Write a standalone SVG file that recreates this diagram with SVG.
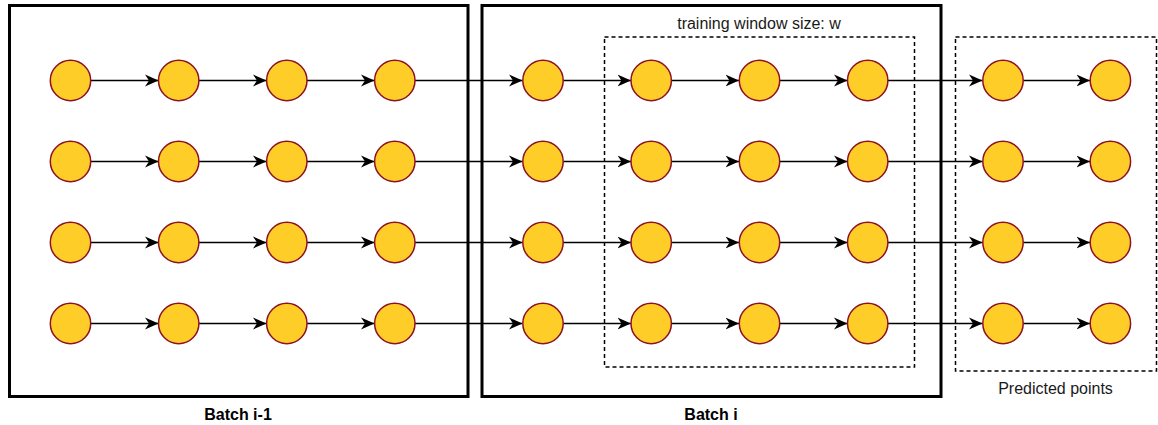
<svg xmlns="http://www.w3.org/2000/svg" width="1158" height="425" viewBox="0 0 1158 425">
  <style>
    .batch { fill: #ffffff; stroke: #000000; stroke-width: 3; }
    .window { fill: none; stroke: #000000; stroke-width: 1.5; stroke-dasharray: 4 3; }
    .pt { fill: #FFCD28; stroke: #8C1226; stroke-width: 1.5; }
    .edge { fill: none; stroke: #000000; stroke-width: 1.4; marker-end: url(#arrow); }
    .lbl { font-family: "Liberation Sans", Arial, sans-serif; font-size: 16px; fill: #1a1a1a; text-anchor: middle; }
    .bold { font-weight: bold; fill: #000000; }
  </style>
  <defs>
    <marker id="arrow" markerUnits="userSpaceOnUse" markerWidth="15" markerHeight="13" refX="13.5" refY="6.5" orient="auto">
      <path d="M0,0.5 L13.5,6.5 L0,12.5 L4,6.5 Z" fill="#000000"/>
    </marker>
  </defs>
  <rect width="1158" height="425" fill="#ffffff"/>

  <!-- batch containers -->
  <g id="batch-prev">
    <rect class="batch" x="9.5" y="5.5" width="458.5" height="391"/>
    <text class="lbl bold" x="238" y="420">Batch i-1</text>
  </g>
  <g id="batch-curr">
    <rect class="batch" x="482" y="5.5" width="459" height="391"/>
    <text class="lbl bold" x="711" y="420">Batch i</text>
  </g>
  <g id="training-window">
    <rect class="window" x="604.5" y="37" width="310" height="330"/>
    <text class="lbl" x="759" y="28.5">training window size: w</text>
  </g>
  <g id="predicted">
    <rect class="window" x="955.5" y="37" width="201" height="334"/>
    <text class="lbl" x="1055.5" y="394">Predicted points</text>
  </g>

  <!-- connectors -->
  <g id="connectors">
    <!-- row 1 -->
    <line class="edge" x1="91" y1="80.5" x2="158.5" y2="80.5"/>
    <line class="edge" x1="199" y1="80.5" x2="266.5" y2="80.5"/>
    <line class="edge" x1="307" y1="80.5" x2="374.5" y2="80.5"/>
    <line class="edge" x1="415" y1="80.5" x2="522.5" y2="80.5"/>
    <line class="edge" x1="563.5" y1="80.5" x2="631" y2="80.5"/>
    <line class="edge" x1="671.5" y1="80.5" x2="739" y2="80.5"/>
    <line class="edge" x1="780" y1="80.5" x2="847.5" y2="80.5"/>
    <line class="edge" x1="888" y1="80.5" x2="982.5" y2="80.5"/>
    <line class="edge" x1="1023.5" y1="80.5" x2="1090" y2="80.5"/>
    <!-- row 2 -->
    <line class="edge" x1="91" y1="161.5" x2="158.5" y2="161.5"/>
    <line class="edge" x1="199" y1="161.5" x2="266.5" y2="161.5"/>
    <line class="edge" x1="307" y1="161.5" x2="374.5" y2="161.5"/>
    <line class="edge" x1="415" y1="161.5" x2="522.5" y2="161.5"/>
    <line class="edge" x1="563.5" y1="161.5" x2="631" y2="161.5"/>
    <line class="edge" x1="671.5" y1="161.5" x2="739" y2="161.5"/>
    <line class="edge" x1="780" y1="161.5" x2="847.5" y2="161.5"/>
    <line class="edge" x1="888" y1="161.5" x2="982.5" y2="161.5"/>
    <line class="edge" x1="1023.5" y1="161.5" x2="1090" y2="161.5"/>
    <!-- row 3 -->
    <line class="edge" x1="91" y1="242.5" x2="158.5" y2="242.5"/>
    <line class="edge" x1="199" y1="242.5" x2="266.5" y2="242.5"/>
    <line class="edge" x1="307" y1="242.5" x2="374.5" y2="242.5"/>
    <line class="edge" x1="415" y1="242.5" x2="522.5" y2="242.5"/>
    <line class="edge" x1="563.5" y1="242.5" x2="631" y2="242.5"/>
    <line class="edge" x1="671.5" y1="242.5" x2="739" y2="242.5"/>
    <line class="edge" x1="780" y1="242.5" x2="847.5" y2="242.5"/>
    <line class="edge" x1="888" y1="242.5" x2="982.5" y2="242.5"/>
    <line class="edge" x1="1023.5" y1="242.5" x2="1090" y2="242.5"/>
    <!-- row 4 -->
    <line class="edge" x1="91" y1="323.5" x2="158.5" y2="323.5"/>
    <line class="edge" x1="199" y1="323.5" x2="266.5" y2="323.5"/>
    <line class="edge" x1="307" y1="323.5" x2="374.5" y2="323.5"/>
    <line class="edge" x1="415" y1="323.5" x2="522.5" y2="323.5"/>
    <line class="edge" x1="563.5" y1="323.5" x2="631" y2="323.5"/>
    <line class="edge" x1="671.5" y1="323.5" x2="739" y2="323.5"/>
    <line class="edge" x1="780" y1="323.5" x2="847.5" y2="323.5"/>
    <line class="edge" x1="888" y1="323.5" x2="982.5" y2="323.5"/>
    <line class="edge" x1="1023.5" y1="323.5" x2="1090" y2="323.5"/>
  </g>

  <!-- points: row r, column c -->
  <g id="p1-1"><circle class="pt" cx="70.5" cy="80.5" r="20.2"/></g>
  <g id="p1-2"><circle class="pt" cx="178.7" cy="80.5" r="20.2"/></g>
  <g id="p1-3"><circle class="pt" cx="286.8" cy="80.5" r="20.2"/></g>
  <g id="p1-4"><circle class="pt" cx="394.8" cy="80.5" r="20.2"/></g>
  <g id="p1-5"><circle class="pt" cx="543" cy="80.5" r="20.2"/></g>
  <g id="p1-6"><circle class="pt" cx="651.2" cy="80.5" r="20.2"/></g>
  <g id="p1-7"><circle class="pt" cx="759.5" cy="80.5" r="20.2"/></g>
  <g id="p1-8"><circle class="pt" cx="867.7" cy="80.5" r="20.2"/></g>
  <g id="p1-9"><circle class="pt" cx="1003" cy="80.5" r="20.2"/></g>
  <g id="p1-10"><circle class="pt" cx="1110.4" cy="80.5" r="20.2"/></g>

  <g id="p2-1"><circle class="pt" cx="70.5" cy="161.5" r="20.2"/></g>
  <g id="p2-2"><circle class="pt" cx="178.7" cy="161.5" r="20.2"/></g>
  <g id="p2-3"><circle class="pt" cx="286.8" cy="161.5" r="20.2"/></g>
  <g id="p2-4"><circle class="pt" cx="394.8" cy="161.5" r="20.2"/></g>
  <g id="p2-5"><circle class="pt" cx="543" cy="161.5" r="20.2"/></g>
  <g id="p2-6"><circle class="pt" cx="651.2" cy="161.5" r="20.2"/></g>
  <g id="p2-7"><circle class="pt" cx="759.5" cy="161.5" r="20.2"/></g>
  <g id="p2-8"><circle class="pt" cx="867.7" cy="161.5" r="20.2"/></g>
  <g id="p2-9"><circle class="pt" cx="1003" cy="161.5" r="20.2"/></g>
  <g id="p2-10"><circle class="pt" cx="1110.4" cy="161.5" r="20.2"/></g>

  <g id="p3-1"><circle class="pt" cx="70.5" cy="242.5" r="20.2"/></g>
  <g id="p3-2"><circle class="pt" cx="178.7" cy="242.5" r="20.2"/></g>
  <g id="p3-3"><circle class="pt" cx="286.8" cy="242.5" r="20.2"/></g>
  <g id="p3-4"><circle class="pt" cx="394.8" cy="242.5" r="20.2"/></g>
  <g id="p3-5"><circle class="pt" cx="543" cy="242.5" r="20.2"/></g>
  <g id="p3-6"><circle class="pt" cx="651.2" cy="242.5" r="20.2"/></g>
  <g id="p3-7"><circle class="pt" cx="759.5" cy="242.5" r="20.2"/></g>
  <g id="p3-8"><circle class="pt" cx="867.7" cy="242.5" r="20.2"/></g>
  <g id="p3-9"><circle class="pt" cx="1003" cy="242.5" r="20.2"/></g>
  <g id="p3-10"><circle class="pt" cx="1110.4" cy="242.5" r="20.2"/></g>

  <g id="p4-1"><circle class="pt" cx="70.5" cy="323.5" r="20.2"/></g>
  <g id="p4-2"><circle class="pt" cx="178.7" cy="323.5" r="20.2"/></g>
  <g id="p4-3"><circle class="pt" cx="286.8" cy="323.5" r="20.2"/></g>
  <g id="p4-4"><circle class="pt" cx="394.8" cy="323.5" r="20.2"/></g>
  <g id="p4-5"><circle class="pt" cx="543" cy="323.5" r="20.2"/></g>
  <g id="p4-6"><circle class="pt" cx="651.2" cy="323.5" r="20.2"/></g>
  <g id="p4-7"><circle class="pt" cx="759.5" cy="323.5" r="20.2"/></g>
  <g id="p4-8"><circle class="pt" cx="867.7" cy="323.5" r="20.2"/></g>
  <g id="p4-9"><circle class="pt" cx="1003" cy="323.5" r="20.2"/></g>
  <g id="p4-10"><circle class="pt" cx="1110.4" cy="323.5" r="20.2"/></g>
</svg>
